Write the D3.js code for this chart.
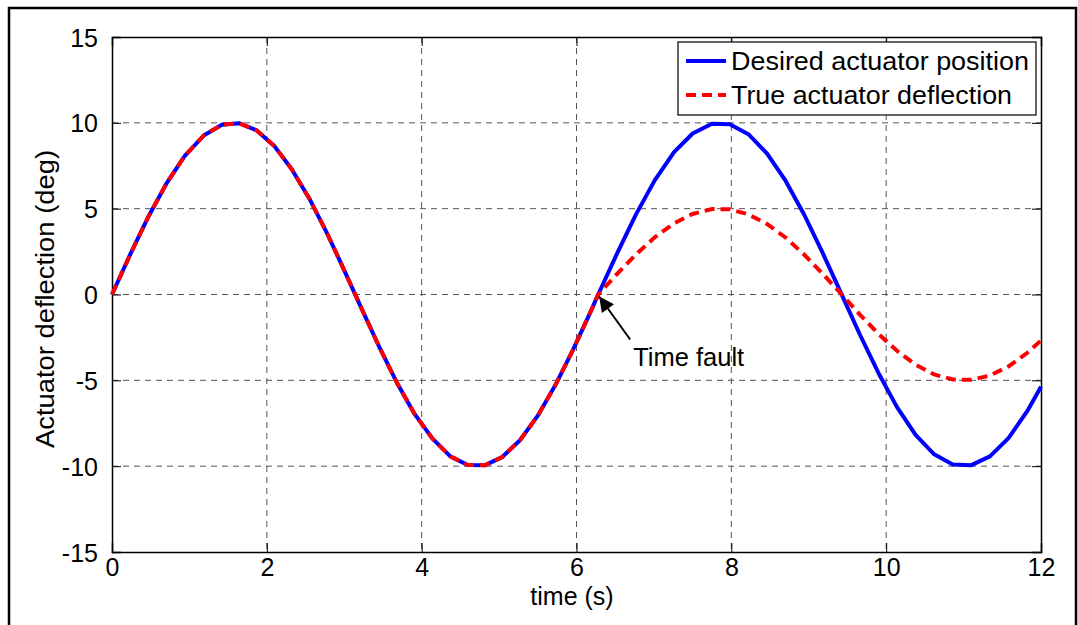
<!DOCTYPE html>
<html lang="en">
<head>
    <meta charset="UTF-8">
    <title>Actuator deflection</title>
    <script src="https://d3js.org/d3.v7.min.js"></script>
    <style>
        body { margin: 0; background: #fff; }
        text { font-family: "Liberation Sans", Arial, sans-serif; fill: #000; }
        .grid line { stroke: #555; stroke-width: 1; stroke-dasharray: 6 5; }
    </style>
</head>
<body>
    <script>
        // time samples (s)
        const time = [0, 0.24, 0.47, 0.70, 0.94, 1.19, 1.42, 1.64, 1.87, 2.10, 2.32, 2.55, 2.78, 3.00,
            3.23, 3.46, 3.68, 3.91, 4.14, 4.37, 4.595, 4.82, 5.04, 5.27, 5.50, 5.73, 5.95, 6.18, 6.28,
            6.52, 6.77, 7.01, 7.26, 7.50, 7.75, 7.98, 8.22, 8.46, 8.70, 8.94, 9.18, 9.42, 9.66, 9.90,
            10.14, 10.38, 10.62, 10.86, 11.10, 11.34, 11.58, 11.82, 12.0];

        // desired actuator position (deg)
        const desired = [0, 2.38, 4.53, 6.44, 8.08, 9.28, 9.89, 9.98, 9.56, 8.63, 7.31, 5.58, 3.55, 1.41,
            -0.88, -3.13, -5.14, -6.97, -8.40, -9.43, -9.93, -9.94, -9.47, -8.49, -7.06, -5.25, -3.27, -1.03, 0,
            2.35, 4.68, 6.65, 8.29, 9.38, 9.95, 9.92, 9.34, 8.22, 6.63, 4.66, 2.42, 0.05, -2.33, -4.57,
            -6.56, -8.18, -9.31, -9.90, -9.94, -9.43, -8.37, -6.81, -5.37];

        // true actuator deflection (deg)
        const actual = [0, 2.38, 4.53, 6.44, 8.08, 9.28, 9.89, 9.98, 9.56, 8.63, 7.31, 5.58, 3.55, 1.41,
            -0.88, -3.13, -5.14, -6.97, -8.40, -9.43, -9.93, -9.94, -9.47, -8.49, -7.06, -5.25, -3.27, -1.03, 0,
            1.18, 2.34, 3.33, 4.15, 4.69, 4.98, 4.96, 4.67, 4.11, 3.32, 2.33, 1.21, 0.03, -1.17, -2.29,
            -3.28, -4.09, -4.66, -4.95, -4.97, -4.72, -4.19, -3.41, -2.68];

        const xTicks = [0, 2, 4, 6, 8, 10, 12];
        const yTicks = [-15, -10, -5, 0, 5, 10, 15];
        const seriesNames = ["Desired actuator position", "True actuator deflection"];
        const fault = {t: 6.28, v: 0, label: "Time fault"};

        const W = 1078, H = 625;
        const margin = {top: 37, right: 37, bottom: 73, left: 112};
        const width = W - margin.left - margin.right;
        const height = H - margin.top - margin.bottom;

        const svg = d3.select("body").append("svg")
            .attr("width", W)
            .attr("height", H);

        // figure frame
        svg.append("rect")
            .attr("x", 9).attr("y", 8)
            .attr("width", 1067).attr("height", 640)
            .attr("fill", "none").attr("stroke", "#000").attr("stroke-width", 2.5);

        const g = svg.append("g")
            .attr("transform", "translate(" + margin.left + "," + margin.top + ")");

        const x = d3.scaleLinear().domain([0, 12]).range([0, width]);
        const y = d3.scaleLinear().domain([-15, 15]).range([height, 0]);

        // grid
        g.append("g").attr("class", "grid")
            .selectAll("line").data(xTicks.slice(1, -1)).join("line")
            .attr("x1", d => x(d)).attr("x2", d => x(d))
            .attr("y1", 0).attr("y2", height);
        g.append("g").attr("class", "grid")
            .selectAll("line").data(yTicks.slice(1, -1)).join("line")
            .attr("x1", 0).attr("x2", width)
            .attr("y1", d => y(d)).attr("y2", d => y(d));

        // axes, ticks pointing inward like matlab
        const tickLen = 9;
        const plain = d => String(d);   // plain hyphen for negatives
        const xb = g.append("g").attr("transform", "translate(0," + height + ")")
            .call(d3.axisBottom(x).tickValues(xTicks).tickFormat(plain).tickSize(-tickLen).tickPadding(tickLen + 4));
        const xt = g.append("g")
            .call(d3.axisTop(x).tickValues(xTicks).tickSize(-tickLen).tickFormat(""));
        const yl = g.append("g")
            .call(d3.axisLeft(y).tickValues(yTicks).tickFormat(plain).tickSize(-tickLen).tickPadding(tickLen + 5));
        const yr = g.append("g").attr("transform", "translate(" + width + ",0)")
            .call(d3.axisRight(y).tickValues(yTicks).tickSize(-tickLen).tickFormat(""));

        [xb, xt, yl, yr].forEach(a => {
            a.select(".domain").attr("stroke", "#000").attr("stroke-width", 1.5);
            a.selectAll(".tick line").attr("stroke", "#000");
            a.selectAll("text").attr("font-size", 25).attr("font-family", "Liberation Sans, Arial, sans-serif");
        });
        xb.selectAll("text").attr("dy", "0.72em").attr("y", 6);
        yl.selectAll("text").attr("dy", "0.36em");

        // lines
        const line = d3.line().x(d => x(d[0])).y(d => y(d[1]));

        g.append("path")
            .datum(time.map((t, i) => [t, desired[i]]))
            .attr("d", line)
            .attr("fill", "none").attr("stroke", "#0000ff").attr("stroke-width", 4)
            .attr("stroke-linejoin", "round");

        g.append("path")
            .datum(time.map((t, i) => [t, actual[i]]))
            .attr("d", line)
            .attr("fill", "none").attr("stroke", "#ff0000").attr("stroke-width", 4)
            .attr("stroke-dasharray", "10 6");

        // annotation arrow
        const tip = [x(fault.t) + 1, y(fault.v) + 2];
        const tail = [tip[0] + 31, tip[1] + 43];
        svg.append("defs").append("marker")
            .attr("id", "head")
            .attr("viewBox", "0 0 10 10")
            .attr("refX", 10).attr("refY", 5)
            .attr("markerWidth", 22).attr("markerHeight", 15)
            .attr("markerUnits", "userSpaceOnUse")
            .attr("orient", "auto")
            .append("path").attr("d", "M0,0 L10,5 L0,10 Z").attr("fill", "#000");
        g.append("line")
            .attr("x1", tail[0]).attr("y1", tail[1])
            .attr("x2", tip[0]).attr("y2", tip[1])
            .attr("stroke", "#000").attr("stroke-width", 2)
            .attr("marker-end", "url(#head)");
        g.append("text")
            .attr("x", tail[0] + 3).attr("y", tail[1] + 26)
            .attr("font-size", 25.5)
            .text(fault.label);

        // axis labels
        svg.append("text")
            .attr("x", 572).attr("y", 605)
            .attr("text-anchor", "middle")
            .attr("font-size", 25)
            .text("time (s)");
        svg.append("text")
            .attr("transform", "translate(54,299) rotate(-90)")
            .attr("text-anchor", "middle")
            .attr("font-size", 25)
            .attr("textLength", 298).attr("lengthAdjust", "spacingAndGlyphs")
            .text("Actuator deflection (deg)");

        // legend
        const lg = svg.append("g");
        lg.append("rect")
            .attr("x", 678).attr("y", 42)
            .attr("width", 358).attr("height", 73)
            .attr("fill", "#fff").attr("stroke", "#000").attr("stroke-width", 1.2);
        const legendItems = [
            {name: seriesNames[0], color: "#0000ff", dash: null, ty: 61, len: 298},
            {name: seriesNames[1], color: "#ff0000", dash: "10 6", ty: 95, len: 281}
        ];
        legendItems.forEach(d => {
            lg.append("line")
                .attr("x1", 686).attr("x2", 726)
                .attr("y1", d.ty).attr("y2", d.ty)
                .attr("stroke", d.color).attr("stroke-width", 4)
                .attr("stroke-dasharray", d.dash);
            lg.append("text")
                .attr("x", 731).attr("y", d.ty + 9)
                .attr("font-size", 25)
                .attr("textLength", d.len).attr("lengthAdjust", "spacingAndGlyphs")
                .text(d.name);
        });
    </script>
</body>
</html>
